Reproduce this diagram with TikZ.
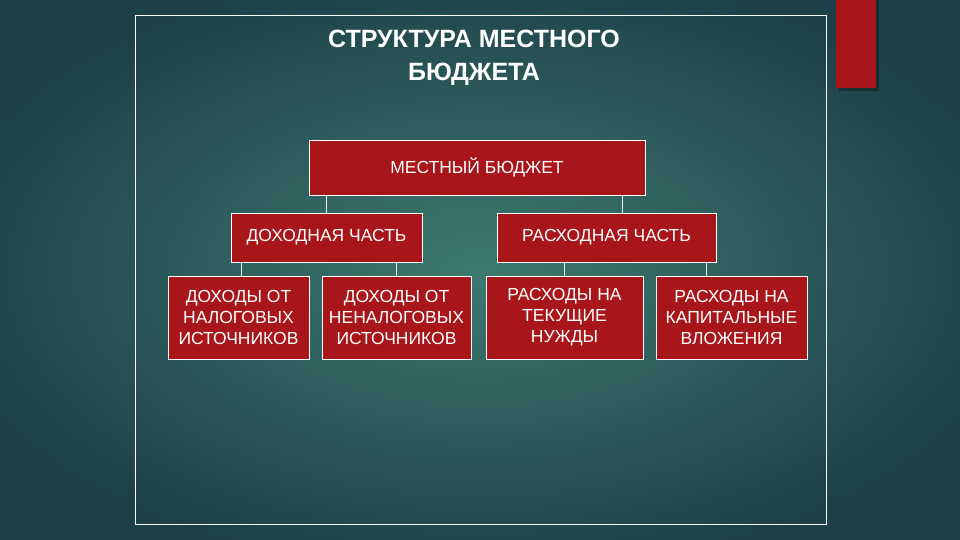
\documentclass[tikz,border=0pt]{standalone}
\usepackage{fontspec}
\setmainfont{Liberation Sans}
\begin{document}
\begin{tikzpicture}[x=1pt,y=-1pt,
  box/.style={draw=white,line width=0.6pt,fill=boxred,text=white,align=center,font=\fontsize{17.5}{21}\selectfont,inner sep=0pt},
  conn/.style={draw=white!85!gray,line width=0.5pt}]
\definecolor{boxred}{HTML}{A8161A}
\definecolor{bgout}{HTML}{1D3F48}
\definecolor{bgin}{HTML}{3D7A70}
\useasboundingbox (0,0) rectangle (960,540);
\shade[inner color=bgin,outer color=bgout] (-80,-40) rectangle (1040,580);
\draw[white,line width=0.6pt] (135,15) rectangle (826,524);
\fill[black,opacity=0.3] (839,0) rectangle (879,91);
\fill[boxred] (836,0) rectangle (876,88);
\node[text=white,font=\bfseries\fontsize{25}{33}\selectfont,align=center] (title) at (474,58) {СТРУКТУРА МЕСТНОГО\\БЮДЖЕТА};
\node[box,minimum width=336,minimum height=55] (top) at (477,167.5) {МЕСТНЫЙ БЮДЖЕТ};
\node[box,minimum width=191,minimum height=49] (dox) at (326.5,237.5) {ДОХОДНАЯ ЧАСТЬ};
\node[box,minimum width=219,minimum height=49] (ras) at (606.5,237.5) {РАСХОДНАЯ ЧАСТЬ};
\node[box,minimum width=141,minimum height=83] (b1) at (238.5,317.5) {ДОХОДЫ ОТ\\НАЛОГОВЫХ\\ИСТОЧНИКОВ};
\node[box,minimum width=149,minimum height=83] (b2) at (396.5,317.5) {ДОХОДЫ ОТ\\НЕНАЛОГОВЫХ\\ИСТОЧНИКОВ};
\node[box,minimum width=157,minimum height=83] (b3) at (564.5,317.5) {РАСХОДЫ НА\\ТЕКУЩИЕ\\НУЖДЫ};
\node[box,minimum width=151,minimum height=83] (b4) at (731.5,317.5) {РАСХОДЫ НА\\КАПИТАЛЬНЫЕ\\ВЛОЖЕНИЯ};
\coordinate (cr) at (622,0);
\coordinate (c1) at (241,0);
\coordinate (c4) at (706,0);
\draw[conn] (top.south -| dox.north) -- (dox.north);
\draw[conn] (top.south -| cr) -- (ras.north -| cr);
\draw[conn] (dox.south -| c1) -- (b1.north -| c1);
\draw[conn] (dox.south -| b2.north) -- (b2.north);
\draw[conn] (ras.south -| b3.north) -- (b3.north);
\draw[conn] (ras.south -| c4) -- (b4.north -| c4);
\end{tikzpicture}
\end{document}
